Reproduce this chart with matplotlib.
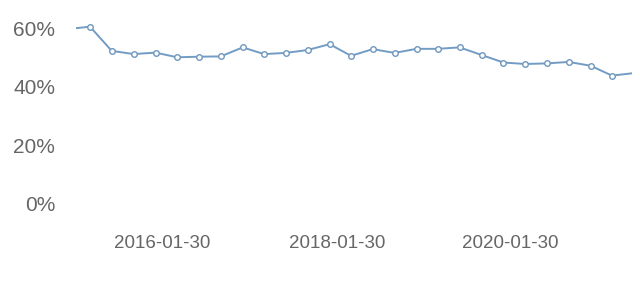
import matplotlib
matplotlib.use("Agg")
import matplotlib.pyplot as plt
import pandas as pd

# Quarterly values (percent), first and last points are partial periods
dates = ["2015-01-31", "2015-03-31", "2015-06-30", "2015-09-30", "2015-12-31",
         "2016-03-31", "2016-06-30", "2016-09-30", "2016-12-31",
         "2017-03-31", "2017-06-30", "2017-09-30", "2017-12-31",
         "2018-03-31", "2018-06-30", "2018-09-30", "2018-12-31",
         "2019-03-31", "2019-06-30", "2019-09-30", "2019-12-31",
         "2020-03-31", "2020-06-30", "2020-09-30", "2020-12-31",
         "2021-03-31", "2021-06-23"]
values = [60.2, 60.7, 52.4, 51.3, 51.8,
          50.2, 50.4, 50.5, 53.6,
          51.3, 51.7, 52.7, 54.7,
          50.7, 53.0, 51.7, 53.1,
          53.1, 53.6, 51.0, 48.4,
          47.9, 48.1, 48.6, 47.3,
          43.9, 44.7]
y_ticks = [0, 20, 40, 60]
x_ticks = ["2016-01-30", "2018-01-30", "2020-01-30"]

x = pd.to_datetime(dates)

fig = plt.figure(figsize=(6.4, 2.95), dpi=100)
ax = fig.add_axes([76 / 640, 1 - 203.5 / 295, (632 - 76) / 640, (203.5 - 20) / 295])

ax.plot(x, values, color="#729cc4", linewidth=1.4,
        marker="o", markersize=4, markerfacecolor="white",
        markeredgecolor="#6f97be", markeredgewidth=1.0,
        markevery=list(range(1, len(values) - 1)))

ax.set_xlim(x[0], x[-1])
ax.set_ylim(0, 63)

ax.set_yticks(y_ticks)
ax.set_yticklabels([f"{v}%" for v in y_ticks])
ax.set_xticks(pd.to_datetime(x_ticks))
ax.set_xticklabels(x_ticks)

for s in ax.spines.values():
    s.set_visible(False)
ax.tick_params(axis="both", length=0, colors="#666666")
ax.tick_params(axis="y", labelsize=15, pad=15)
ax.tick_params(axis="x", labelsize=13.5, pad=23)
for lab in ax.get_xticklabels() + ax.get_yticklabels():
    lab.set_family("Liberation Sans")

fig.savefig("out.png", dpi=100)
